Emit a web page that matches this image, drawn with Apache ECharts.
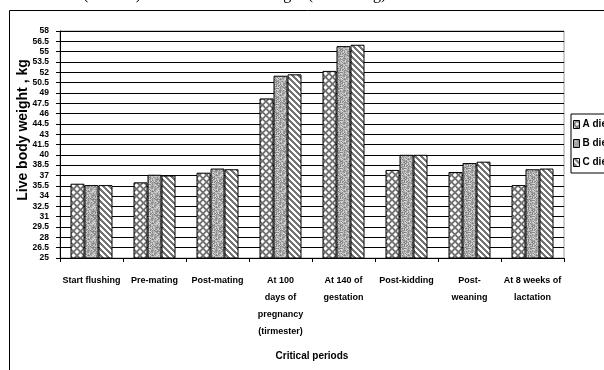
<!DOCTYPE html>
<html>
<head>
<meta charset="utf-8">
<script src="https://cdn.jsdelivr.net/npm/echarts@6/dist/echarts.min.js"></script>
<style>
  html, body { margin: 0; padding: 0; background: #fff; }
  #chart { width: 604px; height: 370px; }
</style>
</head>
<body>
<div id="chart"></div>
<script>
// Live body weight (kg) of does on three diets across the critical periods
const categories = [
  'Start flushing',
  'Pre-mating',
  'Post-mating',
  'At 100\ndays of\npregnancy\n(tirmester)',
  'At 140 of\ngestation',
  'Post-kidding',
  'Post-\nweaning',
  'At 8 weeks of\nlactation'
];
const dietNames = ['A diet', 'B diet', 'C diet'];
const dietA = [35.8, 36.0, 37.4, 48.2, 52.2, 37.8, 37.5, 35.6];
const dietB = [35.6, 37.1, 38.0, 51.5, 55.8, 40.0, 38.8, 37.9];
const dietC = [35.6, 37.0, 37.9, 51.7, 56.0, 40.0, 39.0, 38.0];
const yTicks = [25, 26.5, 28, 29.5, 31, 32.5, 34, 35.5, 37, 38.5, 40, 41.5,
                43, 44.5, 46, 47.5, 49, 50.5, 52, 53.5, 55, 56.5, 58];
const yTitle = 'Live body weight , kg';
const caption = '(Table 1) Diet effect on the weight (at flushing)';

const SANS = "'Liberation Sans', Arial, sans-serif";

// Fill patterns for the bars
function makeTile(size, paint) {
  const c = document.createElement('canvas');
  c.width = size; c.height = size;
  const ctx = c.getContext('2d');
  paint(ctx, size);
  return c;
}

// A: grey ground with staggered white diamonds
const patternA = makeTile(7, (ctx, s) => {
  ctx.fillStyle = '#707070';
  ctx.fillRect(0, 0, s, s);
  ctx.fillStyle = '#ffffff';
  const diamond = (cx, cy, r) => {
    ctx.beginPath();
    ctx.moveTo(cx, cy - r); ctx.lineTo(cx + r, cy);
    ctx.lineTo(cx, cy + r); ctx.lineTo(cx - r, cy);
    ctx.closePath(); ctx.fill();
  };
  diamond(3.5, 3.5, 2.2);
  diamond(0, 0, 2.2); diamond(7, 0, 2.2); diamond(0, 7, 2.2); diamond(7, 7, 2.2);
});

// B: speckled granite grey (deterministic hash speckle)
const patternB = makeTile(16, (ctx, s) => {
  const img = ctx.createImageData(s, s);
  for (let y = 0; y < s; y++) {
    for (let x = 0; x < s; x++) {
      let h = (x * 374761393 + y * 668265263) >>> 0;
      h = ((h ^ (h >>> 13)) * 1274126177) >>> 0;
      h = (h ^ (h >>> 16)) & 255;
      const v = 125 + Math.floor(h * 95 / 255);
      const i = (y * s + x) * 4;
      img.data[i] = v; img.data[i + 1] = v; img.data[i + 2] = v; img.data[i + 3] = 255;
    }
  }
  ctx.putImageData(img, 0, 0);
});

// C: white / grey stripes running down to the right
const patternC = makeTile(6, (ctx, s) => {
  for (let y = 0; y < s; y++) {
    for (let x = 0; x < s; x++) {
      const k = ((x - y) % s + s) % s;
      ctx.fillStyle = k < 3 ? '#747474' : '#ffffff';
      ctx.fillRect(x, y, 1, 1);
    }
  }
});

const fills = [patternA, patternB, patternC];
const seriesData = [dietA, dietB, dietC];

const chart = echarts.init(document.getElementById('chart'), null, { renderer: 'canvas' });

chart.setOption({
  animation: false,
  backgroundColor: '#ffffff',
  grid: { left: 60, top: 31, width: 504, height: 227, show: true, borderColor: '#9a9a9a', borderWidth: 1 },
  legend: {
    orient: 'vertical',
    left: 571,
    top: 114,
    padding: [4, 6, 4, 2],
    itemGap: 6,
    itemWidth: 6,
    itemHeight: 8,
    icon: 'rect',
    borderColor: '#000',
    borderWidth: 1,
    backgroundColor: '#fff',
    data: dietNames,
    itemStyle: { borderColor: '#000', borderWidth: 1 },
    textStyle: { fontFamily: SANS, fontWeight: 'bold', fontSize: 10, lineHeight: 13, color: '#000', padding: [0, 0, 0, -2] }
  },
  xAxis: {
    type: 'category',
    data: categories,
    name: 'Critical periods',
    nameLocation: 'middle',
    nameGap: 93,
    nameMoveOverlap: false,
    nameTextStyle: { fontFamily: SANS, fontWeight: 'bold', fontSize: 10, color: '#000' },
    axisLine: { lineStyle: { color: '#000', width: 1 } },
    axisTick: { show: true, interval: 0, length: 4, lineStyle: { color: '#000' } },
    axisLabel: { interval: 0, margin: 14, fontFamily: SANS, fontWeight: 'bold', fontSize: 9, lineHeight: 17, color: '#000' },
    splitLine: { show: false }
  },
  yAxis: {
    type: 'value',
    min: 25,
    max: 58,
    axisLine: { show: true, lineStyle: { color: '#000', width: 1 } },
    axisTick: { show: true, length: 4, customValues: yTicks, lineStyle: { color: '#000' } },
    axisLabel: { customValues: yTicks, margin: 11, fontFamily: SANS, fontWeight: 'bold', fontSize: 8.5, color: '#000' },
    splitLine: { show: true, lineStyle: { color: '#000', width: 1 } }
  },
  series: dietNames.map((name, i) => ({
    name: name,
    type: 'bar',
    data: seriesData[i],
    barWidth: 14,
    barGap: '0%',
    itemStyle: {
      color: { image: fills[i], repeat: 'repeat' },
      borderColor: '#000',
      borderWidth: 1
    },
    emphasis: { disabled: true }
  })),
  graphic: [
    {
      // chart-area frame
      type: 'rect',
      z: -1,
      shape: { x: 9.5, y: 10.5, width: 700, height: 500 },
      style: { fill: null, stroke: '#000', lineWidth: 1 }
    },
    {
      // vertical axis title
      type: 'text',
      x: 23,
      y: 130,
      rotation: Math.PI / 2,
      style: {
        text: yTitle,
        align: 'center',
        verticalAlign: 'middle',
        font: 'bold 14px "Liberation Sans", Arial, sans-serif',
        fill: '#000'
      }
    },
    {
      // caption line running off the top edge
      type: 'text',
      x: 83,
      y: 2.5,
      style: {
        text: caption,
        verticalAlign: 'bottom',
        font: '16px "Liberation Serif", "Times New Roman", serif',
        fill: '#000'
      }
    }
  ]
});
</script>
</body>
</html>
